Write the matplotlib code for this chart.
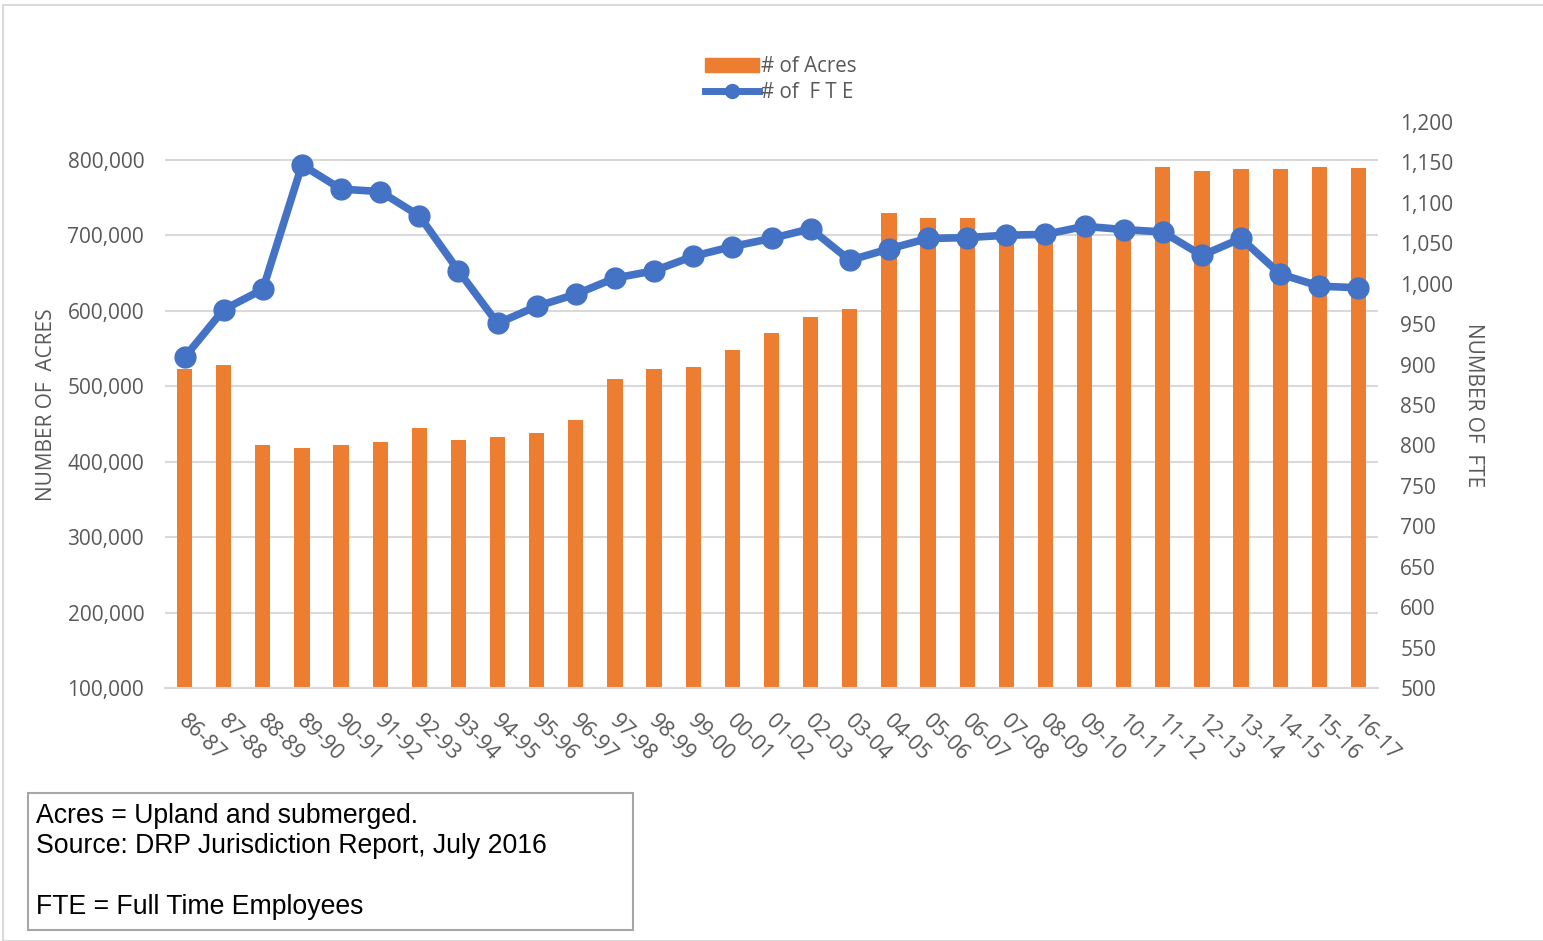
import numpy as np
import matplotlib.pyplot as plt
import matplotlib.transforms as mtransforms
from matplotlib.lines import Line2D
from matplotlib.patches import Patch, Rectangle
from matplotlib.ticker import FuncFormatter

# fiscal years
years = ["86-87", "87-88", "88-89", "89-90", "90-91", "91-92", "92-93", "93-94",
         "94-95", "95-96", "96-97", "97-98", "98-99", "99-00", "00-01", "01-02",
         "02-03", "03-04", "04-05", "05-06", "06-07", "07-08", "08-09", "09-10",
         "10-11", "11-12", "12-13", "13-14", "14-15", "15-16", "16-17"]

# acres (left axis)
acres = [522500, 528000, 422000, 418000, 422000, 426000, 444500, 428500,
         433000, 437500, 454500, 510000, 522500, 525500, 548000, 570000,
         592000, 602500, 729500, 723000, 723000, 705000, 705000, 710000,
         708000, 791000, 784500, 787500, 788000, 790300, 789400]

# full time employees (right axis)
fte = [909, 968, 993, 1147, 1117, 1114, 1084, 1016, 951, 972, 987, 1007,
       1016, 1034, 1046, 1056, 1068, 1029, 1043, 1056, 1057, 1060, 1061, 1071,
       1067, 1064, 1035, 1056, 1012, 997, 995]

orange = "#ED7D31"
blue = "#4472C4"
txt = "#595959"
grid = "#D9D9D9"

plt.rcParams['font.family'] = ['Open Sans', 'DejaVu Sans']

fig = plt.figure(figsize=(15.43, 9.41), dpi=100)
ax = fig.add_axes([165/1543, 1-688/941, (1378-165)/1543, (688-122)/941])
ax2 = ax.twinx()

x = np.arange(len(years))
ax.bar(x, acres, width=0.39, color=orange, zorder=2)
ax2.plot(x, fte, color=blue, lw=5.5, marker='o', ms=15, zorder=3)

ax.set_xlim(-0.5, len(years) - 0.5)
ax.set_ylim(100000, 850000)
ax.set_yticks(np.arange(100000, 800001, 100000))
ax.yaxis.set_major_formatter(FuncFormatter(lambda v, p: "{:,.0f}".format(v)))
ax2.set_ylim(500, 1200)
ax2.set_yticks(np.arange(500, 1201, 50))
ax2.yaxis.set_major_formatter(FuncFormatter(lambda v, p: "{:,.0f}".format(v)))

ax.grid(axis='y', color=grid, lw=1.5, zorder=0)
ax.set_axisbelow(True)
for a in (ax, ax2):
    for s in a.spines.values():
        s.set_visible(False)
    a.tick_params(length=0, colors=txt, labelsize=15)
ax.spines['bottom'].set_visible(True)
ax.spines['bottom'].set_color(grid)
ax.spines['bottom'].set_linewidth(1.5)

ax.set_xticks(x)
ax.set_xticklabels(years, rotation=-45, ha='left', va='top', rotation_mode='anchor')
ax.tick_params(axis='x', pad=16, labelsize=15.5)
shift = mtransforms.ScaledTranslation(0.05, 0, fig.dpi_scale_trans)
for lab in ax.get_xticklabels():
    lab.set_transform(lab.get_transform() + shift)
ax.tick_params(axis='y', pad=15)
ax2.tick_params(axis='y', pad=16)

ax.set_ylabel("NUMBER OF  ACRES", color=txt, fontsize=15)
ax2.set_ylabel("NUMBER OF  FTE", color=txt, fontsize=15, rotation=270)
ax.yaxis.set_label_coords(-0.089, 0.5)
ax2.yaxis.set_label_coords(1.087, 0.5)

handles = [Patch(color=orange), Line2D([], [], color=blue, lw=5, marker='o', ms=10)]
fig.legend(handles, ["# of Acres", "# of  F T E"], loc='upper center',
           bbox_to_anchor=(0.506, 0.960), frameon=False, fontsize=14.8,
           labelcolor=txt, handlelength=2.6, handletextpad=0.1, labelspacing=0.25)

# chart border
fig.patches.append(Rectangle((3/1543, 0), 2, 1-5/941, transform=fig.transFigure,
                             fill=False, edgecolor=grid, lw=1.5))

# note box
fig.patches.append(Rectangle((28/1543, 1-930/941), 605/1543, 137/941,
                             transform=fig.transFigure, fill=False,
                             edgecolor="#A6A6A6", lw=1.5))
fig.text(36/1543, 1-803/941,
         "Acres = Upland and submerged.\nSource: DRP Jurisdiction Report, July 2016\n\nFTE = Full Time Employees",
         family='Liberation Sans', fontsize=19.2, va='top', ha='left',
         linespacing=1.22, color='black')

fig.savefig("out.png", dpi=100)
